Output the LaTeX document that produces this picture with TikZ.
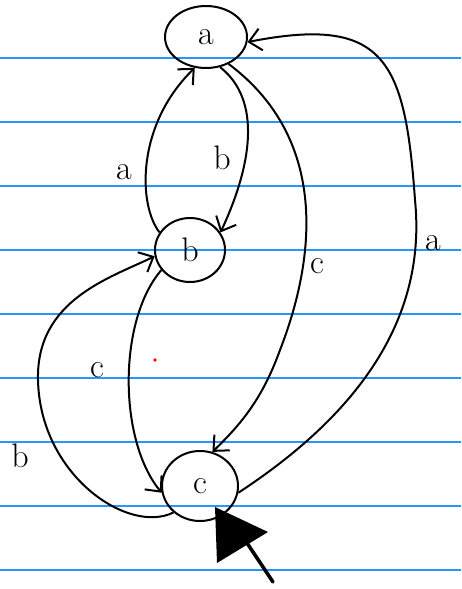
\documentclass[tikz,border=0pt]{standalone}
\usetikzlibrary{shapes.geometric,arrows.meta}
\definecolor{ruled}{RGB}{40,150,255}
\begin{document}
\begin{tikzpicture}[x=1pt,y=-1pt,
  state/.style={ellipse,draw,line width=2pt,inner sep=0pt,font=\fontsize{34}{34}\selectfont},
  edge/.style={line width=2pt,-{Straight Barb[length=12pt,width=22pt]}},
  lbl/.style={font=\fontsize{34}{34}\selectfont,inner sep=0pt}]
\useasboundingbox (0,0) rectangle (461,589);
\fill[white] (0,0) rectangle (461,589);
\foreach \k in {0,...,8} \draw[ruled,line width=1.3pt] (0,58+64*\k) -- (461,58+64*\k);
% states
\node[state,minimum width=82pt,minimum height=62pt] (a) at (206,37) {a};
\node[state,minimum width=70pt,minimum height=64pt] (b) at (190,250) {b};
\node[state,minimum width=76pt,minimum height=70pt] (c) at (200,486) {c};
% edges
\draw[edge] (b.150) .. controls (138,205) and (136,125) .. (a.250);
\draw[edge] (a.295) .. controls (262,100) and (252,165) .. (b.30);
\draw[edge] (a.310) .. controls (330,140) and (315,260) .. (280,350) .. controls (262,400) and (240,425) .. (c.70);
\draw[edge] (c.350) .. controls (380,400) and (425,300) .. (415,200) .. controls (405,60) and (385,15) .. (a.353);
\draw[edge] (b.215) .. controls (118,320) and (118,440) .. (c.190);
\draw[edge] (c.225) .. controls (128,535) and (40,475) .. (38,380) .. controls (36,300) and (110,278) .. (b.190);
% labels
\node[lbl] (la1) at (124,172) {a};
\node[lbl] (lb1) at (222,158) {b};
\node[lbl] (lc1) at (317,266) {c};
\node[lbl] (la2) at (433,243) {a};
\node[lbl] (lc2) at (97,370) {c};
\node[lbl] (lb2) at (20,456) {b};
% start arrow
\fill (215,507) -- (268,532) -- (217,563) -- cycle;
\draw[line width=3.5pt,line cap=round] (245,540) -- (273,582);
% red dot
\fill[red] (155,360) circle (1.8pt);
\end{tikzpicture}
\end{document}
